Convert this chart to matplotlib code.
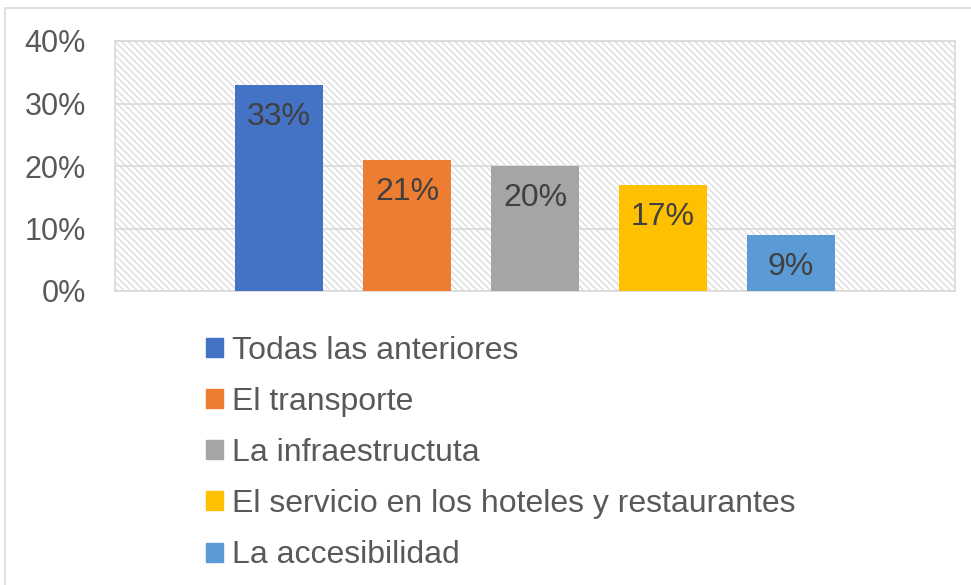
import matplotlib.pyplot as plt
from matplotlib.patches import Rectangle

plt.rcParams['font.family'] = ['Liberation Sans', 'DejaVu Sans']
plt.rcParams['hatch.color'] = '#dcdcdc'
plt.rcParams['hatch.linewidth'] = 1.0

categorias = ['Todas las anteriores', 'El transporte', 'La infraestructuta',
              'El servicio en los hoteles y restaurantes', 'La accesibilidad']
valores = [33, 21, 20, 17, 9]
colores = ['#4472c4', '#ed7d31', '#a5a5a5', '#ffc000', '#5b9bd5']
yticks = [0, 10, 20, 30, 40]

fig = plt.figure(figsize=(9.71, 5.85), dpi=100)
# marco del grafico (solo borde izquierdo y superior visibles)
fig.patches.append(Rectangle((5/971, -0.05), 1.0, 1.05-8/585, transform=fig.transFigure,
                             fill=False, edgecolor='#d9d9d9', linewidth=1.2))

ax = fig.add_axes([115/971, 1-291/585, 840/971, 250/585])
ax.patch.set_hatch('\\\\\\\\\\')
ax.patch.set_edgecolor('#dcdcdc')

x = list(range(len(valores)))
ax.bar(x, valores, width=88/128, color=colores, zorder=3)
for xi, v in zip(x, valores):
    ax.annotate(f'{v}%', (xi, v), xytext=(0, -12.5), textcoords='offset points',
                ha='center', va='top', fontsize=23, color='#404040', zorder=4)

ax.set_xlim(-1.28, 5.28)
ax.set_ylim(0, 40)
ax.set_yticks(yticks)
ax.set_yticklabels([f'{t}%' for t in yticks], fontsize=22, color='#595959')
ax.set_xticks([])
ax.tick_params(axis='y', length=0, pad=21)
ax.grid(axis='y', color='#d9d9d9', linewidth=1.2, zorder=1)
for s in ax.spines.values():
    s.set_color('#d9d9d9')
    s.set_linewidth(1.2)

handles = [Rectangle((0, 0), 1, 1, color=c) for c in colores]
fig.legend(handles, categorias, loc='upper left', bbox_to_anchor=(206/971, 1-336/585),
           fontsize=23, frameon=False, handlelength=0.54, handleheight=0.54,
           handletextpad=0.26, labelspacing=0.66, labelcolor='#595959',
           borderpad=0, borderaxespad=0)

fig.savefig('out.png', dpi=100)
